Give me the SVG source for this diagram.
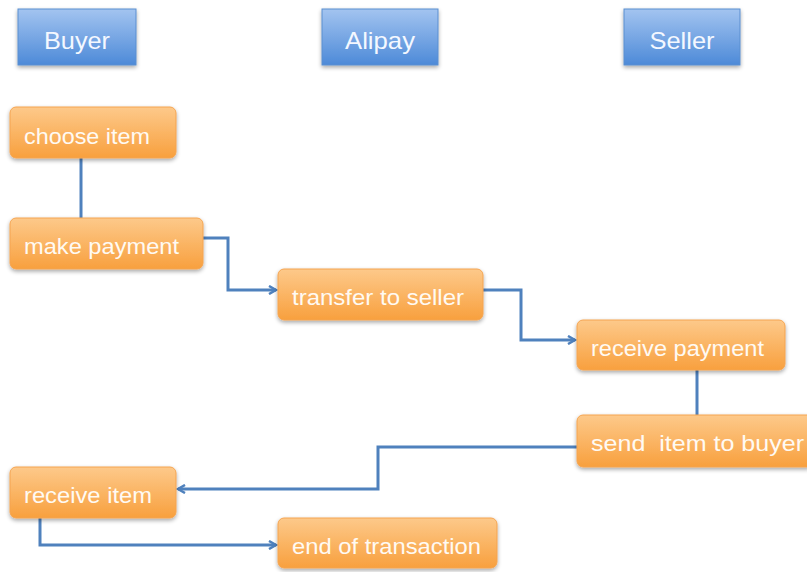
<svg xmlns="http://www.w3.org/2000/svg" width="807" height="572" viewBox="0 0 807 572">
<defs>
<linearGradient id="gBlue" x1="0" y1="0" x2="0" y2="1">
<stop offset="0" stop-color="#a3c4f0"/>
<stop offset="1" stop-color="#4d8ad8"/>
</linearGradient>
<linearGradient id="gOrange" x1="0" y1="0" x2="0" y2="1">
<stop offset="0" stop-color="#fdc98a"/>
<stop offset="1" stop-color="#f8a03e"/>
</linearGradient>
<filter id="sh" x="-10%" y="-20%" width="120%" height="150%">
<feGaussianBlur in="SourceAlpha" stdDeviation="2"/>
<feOffset dx="0" dy="2" result="b"/>
<feComponentTransfer><feFuncA type="linear" slope="0.35"/></feComponentTransfer>
<feMerge><feMergeNode/><feMergeNode in="SourceGraphic"/></feMerge>
</filter>
<marker id="arr" markerWidth="10" markerHeight="10" refX="8" refY="5" orient="auto" markerUnits="userSpaceOnUse">
<path d="M1,1 L8,5 L1,9" fill="none" stroke="#4f81bd" stroke-width="2.5"/>
</marker>
</defs>
<style>
.hdr{fill:url(#gBlue);stroke:#5b8fd0;stroke-width:1;filter:url(#sh)}
.nd{fill:url(#gOrange);stroke:#f5a450;stroke-width:1;filter:url(#sh)}
.ht{font-family:"Liberation Sans",Arial,sans-serif;font-size:24px;fill:#f4f8ff;text-anchor:middle}
.nt{font-family:"Liberation Sans",Arial,sans-serif;font-size:22px;fill:#fffaf3;white-space:pre}
.cn{fill:none;stroke:#4f81bd;stroke-width:3}
</style>
<rect width="807" height="572" fill="#ffffff"/>
<g id="hdr-buyer"><rect class="hdr" x="18" y="9" width="118" height="56"/><text class="ht" x="77" y="49" textLength="66" lengthAdjust="spacingAndGlyphs">Buyer</text></g>
<g id="hdr-alipay"><rect class="hdr" x="322" y="9" width="116" height="56"/><text class="ht" x="380" y="49" textLength="70" lengthAdjust="spacingAndGlyphs">Alipay</text></g>
<g id="hdr-seller"><rect class="hdr" x="624" y="9" width="116" height="56"/><text class="ht" x="682" y="49" textLength="65" lengthAdjust="spacingAndGlyphs">Seller</text></g>
<g id="connectors">
<path class="cn" d="M81,158 V218"/>
<path class="cn" d="M203,238 H228 V290 H276" marker-end="url(#arr)"/>
<path class="cn" d="M483,290 H521 V340 H575" marker-end="url(#arr)"/>
<path class="cn" d="M697,370 V415"/>
<path class="cn" d="M577,447 H378 V489 H178" marker-end="url(#arr)"/>
<path class="cn" d="M40,518 V545 H276" marker-end="url(#arr)"/>
</g>
<g id="n-choose"><rect class="nd" x="10" y="107" width="166" height="51" rx="6"/><text class="nt" x="24" y="144" textLength="126" lengthAdjust="spacingAndGlyphs">choose item</text></g>
<g id="n-make"><rect class="nd" x="10" y="218" width="193" height="51" rx="6"/><text class="nt" x="24" y="254" textLength="155" lengthAdjust="spacingAndGlyphs">make payment</text></g>
<g id="n-transfer"><rect class="nd" x="278" y="269" width="205" height="51" rx="6"/><text class="nt" x="292" y="305" textLength="172" lengthAdjust="spacingAndGlyphs">transfer to seller</text></g>
<g id="n-recpay"><rect class="nd" x="577" y="320" width="208" height="50" rx="6"/><text class="nt" x="591" y="356" textLength="173" lengthAdjust="spacingAndGlyphs">receive payment</text></g>
<g id="n-send"><rect class="nd" x="577" y="415" width="236" height="52" rx="6"/><text class="nt" x="591" y="451" textLength="213" lengthAdjust="spacingAndGlyphs" xml:space="preserve">send  item to buyer</text></g>
<g id="n-recitem"><rect class="nd" x="10" y="467" width="166" height="51" rx="6"/><text class="nt" x="24" y="503" textLength="128" lengthAdjust="spacingAndGlyphs">receive item</text></g>
<g id="n-end"><rect class="nd" x="278" y="518" width="219" height="50" rx="6"/><text class="nt" x="292" y="554" textLength="189" lengthAdjust="spacingAndGlyphs">end of transaction</text></g>
</svg>
